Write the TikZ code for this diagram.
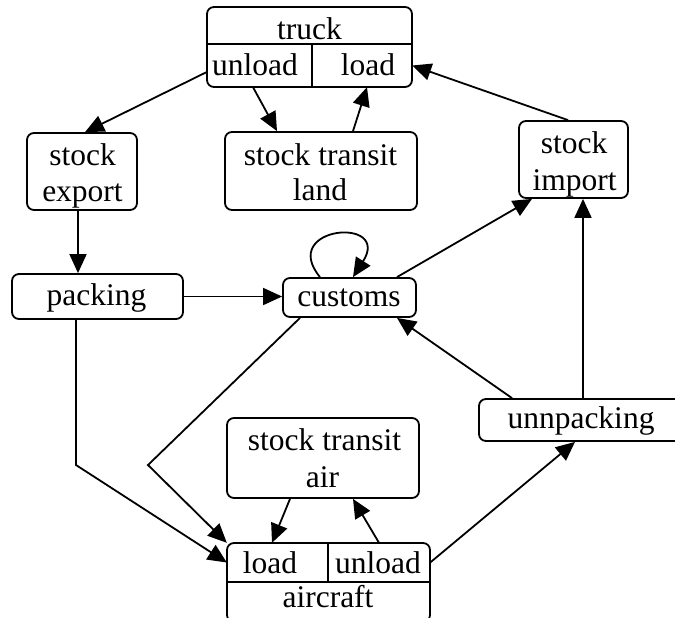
\documentclass[tikz,border=0pt]{standalone}
\usepackage{fontspec}
\setmainfont{Liberation Serif}
\usetikzlibrary{arrows.meta}
\begin{document}
\begin{tikzpicture}[x=1pt,y=-1pt,
  box/.style={draw, rounded corners=7pt, line width=1.8pt, inner sep=0pt},
  field/.style={inner sep=0pt},
  txt/.style={anchor=base, inner sep=0pt, font=\fontsize{31.5}{37}\selectfont},
  arr/.style={-{Triangle[length=19pt,width=17pt]}, line width=1.8pt},
  divider/.style={line width=1.8pt}]
\useasboundingbox (0,0) rectangle (675,618);
% record: truck
\node[box, minimum width=205pt, minimum height=80pt] (truck) at (309.5,47) {};
\node[field, minimum width=105pt, minimum height=43pt] (tUnl) at (259.5,65.5) {};
\node[field, minimum width=100pt, minimum height=43pt] (tLoad) at (362,65.5) {};
\draw[divider] (tUnl.north west) -- (tLoad.north east);
\draw[divider] (tLoad.north west) -- (tLoad.south west);
\node[txt] (truckT) at (309.5,40) {truck};
\node[txt] (tUnlT) at (255,76) {unload};
\node[txt] (tLoadT) at (368,76) {load};
% record: aircraft
\node[box, minimum width=203pt, minimum height=79pt] (aircraft) at (328.5,582.5) {};
\node[field, minimum width=101pt, minimum height=39pt] (aLoad) at (277.5,562.5) {};
\node[field, minimum width=102pt, minimum height=39pt] (aUnl) at (379,562.5) {};
\draw[divider] (aLoad.south west) -- (aUnl.south east);
\draw[divider] (aLoad.north east) -- (aLoad.south east);
\node[txt] (aLoadT) at (270,573) {load};
\node[txt] (aUnlT) at (378,573) {unload};
\node[txt] (aircraftT) at (328,607) {aircraft};
% plain boxes
\node[box, minimum width=110pt, minimum height=77pt] (sexp) at (82,171.5) {};
\node[txt] (sexp1) at (82.5,165.5) {stock};
\node[txt] (sexp2) at (82.5,201.5) {export};
\node[box, minimum width=192pt, minimum height=78pt] (stl) at (321,171) {};
\node[txt] (stl1) at (320.5,165) {stock transit};
\node[txt] (stl2) at (320,200) {land};
\node[box, minimum width=109pt, minimum height=77pt] (simp) at (573.5,159.5) {};
\node[txt] (simp1) at (574,153) {stock};
\node[txt] (simp2) at (574.5,190) {import};
\node[box, minimum width=171pt, minimum height=45pt] (pack) at (97.5,296.5) {};
\node[txt] (packT) at (96.5,305) {packing};
\node[box, minimum width=133pt, minimum height=39pt] (cust) at (349.5,297.5) {};
\node[txt] (custT) at (349,306.5) {customs};
\node[box, minimum width=204pt, minimum height=42pt] (unp) at (581,420) {};
\node[txt] (unpT) at (581,428) {unnpacking};
\node[box, minimum width=192pt, minimum height=80pt] (sta) at (323,458) {};
\node[txt] (sta1) at (324.5,450) {stock transit};
\node[txt] (sta2) at (322.5,487) {air};
% bend points
\coordinate (bendA) at (148,465);
\coordinate (bendB) at (76,465);
% connectors
\draw[arr] ([yshift=-6.5pt]tUnl.west) -- ([xshift=3pt]sexp.north);
\draw[arr] ([xshift=-6.5pt]tUnl.south) -- ([xshift=-44pt]stl.north);
\draw[arr] ([xshift=32pt]stl.north) -- ([xshift=5pt]tLoad.south);
\draw[arr] ([xshift=-5.5pt]simp.north) -- (tLoad.east);
\draw[arr] ([xshift=-4pt]sexp.south) -- ([xshift=-4pt]sexp.south |- pack.north);
\draw[arr] (pack.east) -- (pack.east -| cust.west);
\draw[arr] ([xshift=-29.5pt]cust.north) .. controls (278,226) and (392,216) .. ([xshift=3.5pt]cust.north);
\draw[arr] ([xshift=47.5pt]cust.north) -- ([xshift=-41.5pt]simp.south);
\draw[arr] ([xshift=2pt]unp.north) -- ([xshift=2pt]unp.north |- simp.south);
\draw[arr] ([xshift=-69pt]unp.north) -- ([xshift=47.5pt]cust.south);
\draw[arr] ([xshift=-49.5pt]cust.south) -- (bendA) -- (aLoad.north west);
\draw[arr] ([xshift=-21.5pt]pack.south) -- (bendB) -- (aLoad.west);
\draw[arr] ([xshift=-33pt]sta.south) -- ([xshift=-5.5pt]aLoad.north);
\draw[arr] (aUnl.north) -- ([xshift=30pt]sta.south);
\draw[arr] (aUnl.east) -- ([xshift=-6pt]unp.south);
\end{tikzpicture}
\end{document}
